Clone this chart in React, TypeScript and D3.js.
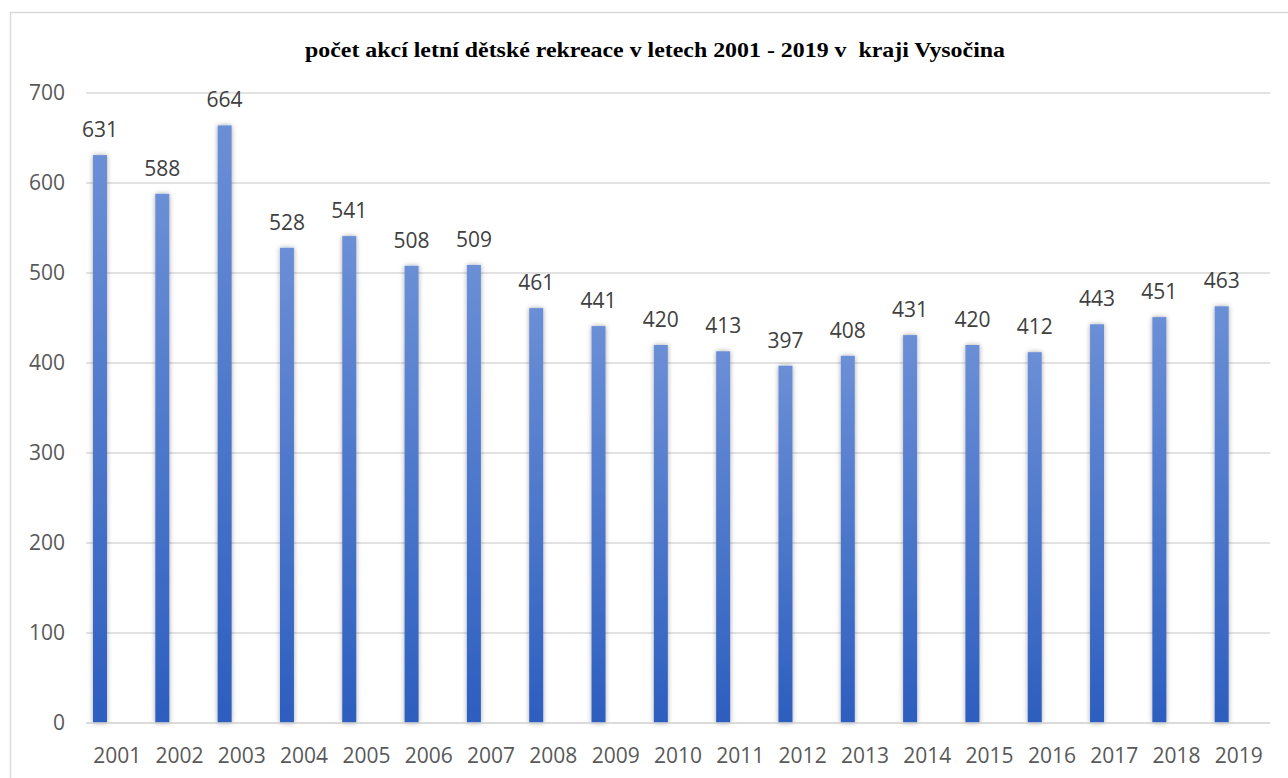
import React, { useEffect, useRef } from 'react';
import * as d3 from 'd3';

const years = ['2001', '2002', '2003', '2004', '2005', '2006', '2007', '2008', '2009', '2010',
  '2011', '2012', '2013', '2014', '2015', '2016', '2017', '2018', '2019'];
const counts = [631, 588, 664, 528, 541, 508, 509, 461, 441, 420, 413, 397, 408, 431, 420, 412, 443, 451, 463];
const yTicks = [0, 100, 200, 300, 400, 500, 600, 700];
const title = 'počet akcí letní dětské rekreace v letech 2001 - 2019 v  kraji Vysočina';

const App = () => {
  const ref = useRef<SVGSVGElement>(null);

  useEffect(() => {
    const width = 1288;
    const height = 778;
    const margin = { top: 93, right: 18, bottom: 55, left: 86 };

    const svg = d3.select(ref.current);
    svg.selectAll('*').remove();

    const defs = svg.append('defs');
    const grad = defs.append('linearGradient')
      .attr('id', 'barGrad')
      .attr('x1', 0).attr('y1', 0).attr('x2', 0).attr('y2', 1);
    grad.append('stop').attr('offset', '0%').attr('stop-color', '#6b8fd6');
    grad.append('stop').attr('offset', '100%').attr('stop-color', '#2d5ebf');

    const shadow = defs.append('filter')
      .attr('id', 'shadow')
      .attr('x', '-100%').attr('y', '-10%').attr('width', '300%').attr('height', '120%');
    shadow.append('feDropShadow')
      .attr('dx', 0).attr('dy', 0).attr('stdDeviation', 2.5)
      .attr('flood-color', '#000').attr('flood-opacity', 0.35);

    svg.append('rect')
      .attr('x', 0).attr('y', 0).attr('width', width).attr('height', height)
      .attr('fill', '#fff');

    // chart border (right/bottom cut off in the picture)
    svg.append('path')
      .attr('d', `M10.5,${height} V12.5 H${width}`)
      .attr('fill', 'none')
      .attr('stroke', '#d9d9d9')
      .attr('stroke-width', 1.5);

    const x = d3.scaleBand()
      .domain(years)
      .range([margin.left, width - margin.right])
      .paddingInner(0)
      .paddingOuter(0);

    const y = d3.scaleLinear()
      .domain([0, 700])
      .range([height - margin.bottom, margin.top]);

    svg.append('text')
      .attr('x', 655)
      .attr('y', 57)
      .attr('text-anchor', 'middle')
      .attr('font-family', '"Liberation Serif", "Times New Roman", serif')
      .attr('font-weight', 'bold')
      .attr('font-size', 22)
      .attr('textLength', 700)
      .attr('lengthAdjust', 'spacingAndGlyphs')
      .attr('fill', '#000')
      .attr('xml:space', 'preserve')
      .text(title);

    const font = '"Open Sans", sans-serif';

    svg.append('g')
      .selectAll('line')
      .data(yTicks)
      .enter()
      .append('line')
      .attr('x1', margin.left)
      .attr('x2', width - margin.right)
      .attr('y1', (d) => y(d))
      .attr('y2', (d) => y(d))
      .attr('stroke', '#d9d9d9')
      .attr('stroke-width', 1.5);

    svg.append('g')
      .selectAll('text')
      .data(yTicks)
      .enter()
      .append('text')
      .attr('x', 65)
      .attr('y', (d) => y(d) + 7)
      .attr('text-anchor', 'end')
      .attr('font-family', font)
      .attr('font-size', 21)
      .attr('fill', '#595959')
      .text((d) => d);

    const barW = 14;
    const barX = (d: string) => (x(d) as number) + 7;

    svg.append('g')
      .selectAll('rect')
      .data(counts)
      .enter()
      .append('rect')
      .attr('x', (d, i) => barX(years[i]))
      .attr('y', (d) => y(d))
      .attr('width', barW)
      .attr('height', (d) => y(0) - y(d))
      .attr('fill', 'url(#barGrad)')
      .attr('filter', 'url(#shadow)');

    // bottom axis line over bars
    svg.append('line')
      .attr('x1', margin.left)
      .attr('x2', width - margin.right)
      .attr('y1', y(0))
      .attr('y2', y(0))
      .attr('stroke', '#d9d9d9')
      .attr('stroke-width', 1.5);

    svg.append('g')
      .selectAll('text')
      .data(counts)
      .enter()
      .append('text')
      .attr('x', (d, i) => barX(years[i]) + barW / 2)
      .attr('y', (d) => y(d) - 18)
      .attr('text-anchor', 'middle')
      .attr('font-family', font)
      .attr('font-size', 21)
      .attr('fill', '#404040')
      .text((d) => d);

    svg.append('g')
      .selectAll('text')
      .data(years)
      .enter()
      .append('text')
      .attr('x', (d) => (x(d) as number) + x.bandwidth() / 2)
      .attr('y', 763)
      .attr('text-anchor', 'middle')
      .attr('font-family', font)
      .attr('font-size', 21)
      .attr('fill', '#595959')
      .text((d) => d);
  }, []);

  return (
    <div style={{ position: 'absolute', left: 0, top: 0 }}>
      <svg ref={ref} width={1288} height={778} style={{ display: 'block' }} />
    </div>
  );
};

export default App;
